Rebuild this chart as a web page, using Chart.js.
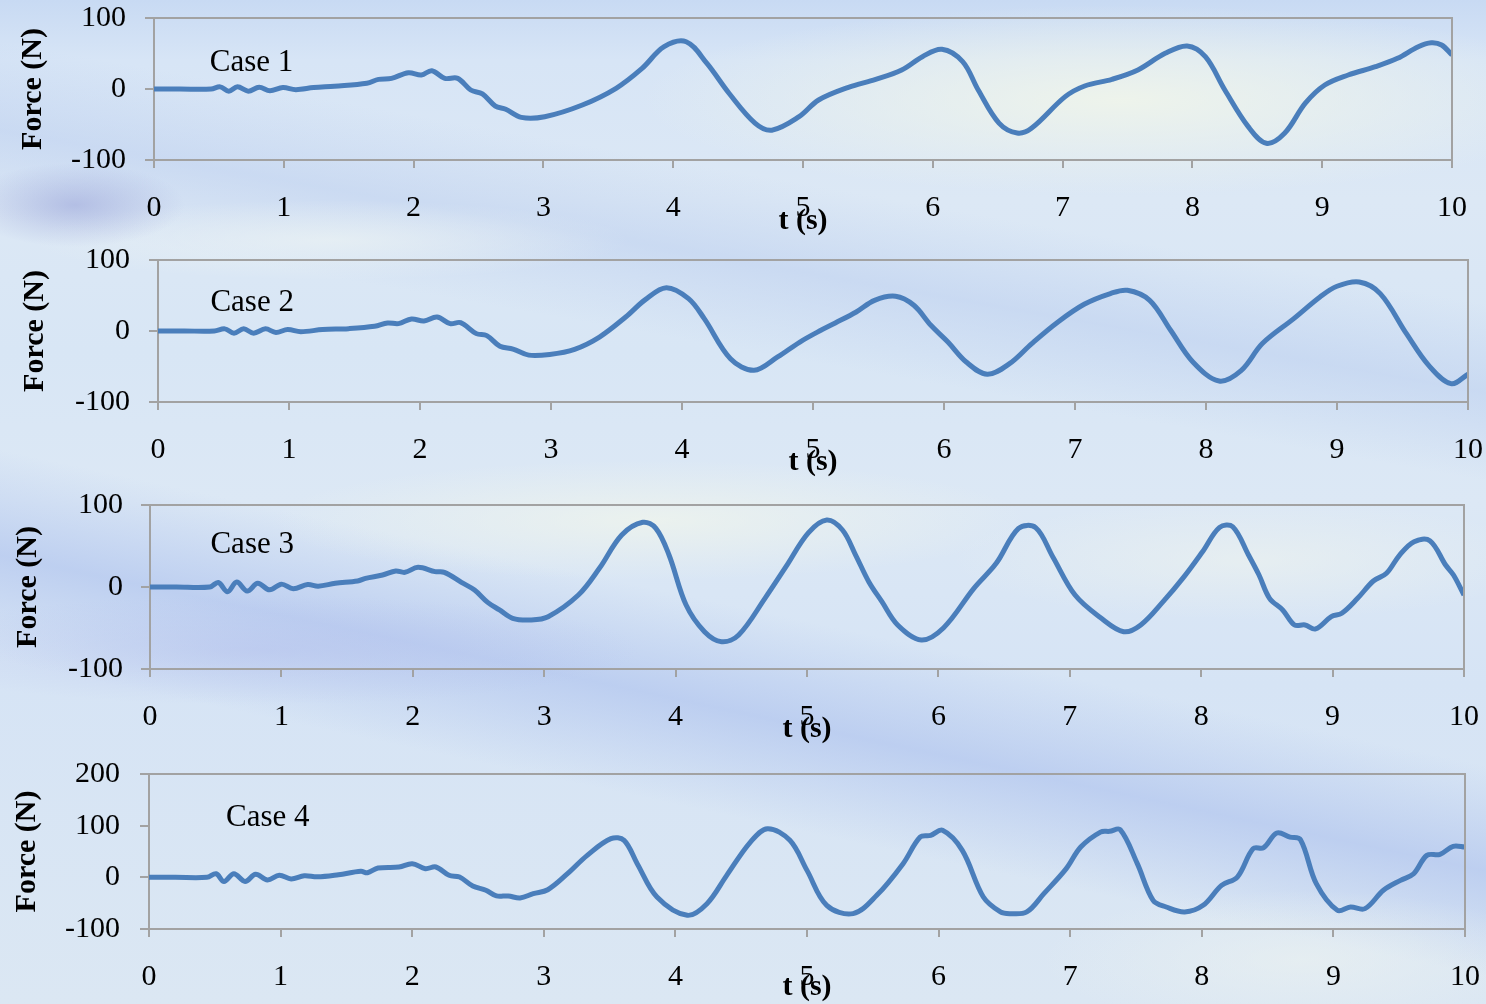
<!DOCTYPE html>
<html>
<head>
<meta charset="utf-8">
<script src="https://cdn.jsdelivr.net/npm/chart.js@4.4.1/dist/chart.umd.min.js"></script>
<style>
  html, body { margin: 0; padding: 0; width: 1486px; height: 1004px; overflow: hidden; }
  body {
    position: relative;
    background:
      radial-gradient(ellipse 110px 42px at 75px 205px, rgba(150,160,215,0.55), rgba(150,160,215,0) 100%),
      radial-gradient(ellipse 480px 95px at 1120px 100px, rgba(240,245,234,0.9), rgba(240,245,234,0)),
      radial-gradient(ellipse 380px 60px at 650px 520px, rgba(240,245,236,0.75), rgba(240,245,236,0)),
      radial-gradient(ellipse 300px 60px at 1250px 560px, rgba(238,243,238,0.6), rgba(238,243,238,0)),
      radial-gradient(ellipse 260px 70px at 1300px 960px, rgba(236,242,240,0.6), rgba(236,242,240,0)),
      radial-gradient(ellipse 300px 40px at 330px 240px, rgba(236,243,244,0.7), rgba(236,243,244,0)),
      radial-gradient(ellipse 380px 55px at 260px 650px, rgba(178,190,236,0.45), rgba(178,190,236,0)),
      linear-gradient(192deg, rgba(185,205,240,0) 58%, rgba(176,196,238,0.68) 66%, rgba(185,205,240,0) 74%),
      linear-gradient(190deg, rgba(190,210,240,0) 24%, rgba(182,202,238,0.45) 31%, rgba(190,210,240,0) 38%),
      linear-gradient(180deg, #c8daf3 0%, #d7e5f6 6%, #dce8f5 20%, #d8e6f5 35%, #dce8f5 50%, #d6e4f5 68%, #dbe7f3 100%);
  }
  canvas { position: absolute; left: 0; }
</style>
</head>
<body>
<canvas id="c1" width="1486" height="240" style="top:0px"></canvas>
<canvas id="c2" width="1486" height="245" style="top:240px"></canvas>
<canvas id="c3" width="1486" height="265" style="top:485px"></canvas>
<canvas id="c4" width="1486" height="254" style="top:750px"></canvas>
<script>
// Time axis ticks (s)
const timeTicks = [0, 1, 2, 3, 4, 5, 6, 7, 8, 9, 10];
const caseNames = ['Case 1', 'Case 2', 'Case 3', 'Case 4'];

// Case 1: time (s) and force (N)
const case1T = [0, 0.2, 0.44, 0.51, 0.576, 0.643, 0.726, 0.81, 0.893, 0.993,
  1.093, 1.23, 1.39, 1.64, 1.73, 1.83, 1.96, 2.06, 2.14, 2.24,
  2.34, 2.44, 2.53, 2.63, 2.71, 2.83, 3.01, 3.30, 3.56, 3.76,
  3.93, 4.10, 4.26, 4.43, 4.63, 4.76, 4.97, 5.12, 5.35, 5.56,
  5.76, 5.92, 6.07, 6.23, 6.35, 6.51, 6.65, 6.76, 7.02, 7.17,
  7.38, 7.58, 7.79, 7.96, 8.10, 8.25, 8.43, 8.57, 8.71, 8.87,
  9.02, 9.20, 9.41, 9.58, 9.74, 9.84, 9.92, 10.0];
const case1F = [0, 0, 0, 3, -3, 3, -3, 2.5, -2.5, 2,
  -1, 2, 4, 8, 13.6, 15, 23, 19.7, 25.8, 15,
  15, -1.4, -7, -24, -28.6, -40, -39, -22.5, 1, 29,
  59.6, 66.6, 36, -6, -48, -58, -39, -15.5, 2.4, 13.6,
  26.8, 45.5, 55.9, 38.5, -1.4, -48, -62, -55.4, -10.8, 4.2,
  13.6, 26.8, 50.2, 60.6, 45.5, -1.4, -53, -76.5, -62.4, -20,
  5.6, 19.7, 31.4, 43.2, 59.6, 65.2, 62, 48];

// Case 2
const case2T = [0, 0.2, 0.43, 0.51, 0.58, 0.654, 0.73, 0.82, 0.90, 0.99,
  1.09, 1.256, 1.455, 1.653, 1.753, 1.836, 1.935, 2.03, 2.13, 2.23,
  2.31, 2.43, 2.51, 2.61, 2.71, 2.83, 2.99, 3.18, 3.37, 3.57,
  3.72, 3.88, 4.05, 4.17, 4.37, 4.55, 4.73, 4.90, 5.06, 5.17,
  5.33, 5.47, 5.63, 5.77, 5.90, 6.03, 6.17, 6.33, 6.50, 6.67,
  6.87, 7.07, 7.27, 7.40, 7.57, 7.73, 7.90, 8.10, 8.27, 8.43,
  8.67, 8.87, 9.00, 9.17, 9.33, 9.53, 9.70, 9.87, 10.0];
const case2F = [0, 0, 0, 3, -3, 3, -3, 3, -2, 2,
  -1, 2, 3.3, 6.6, 11.3, 10.4, 16.9, 14.1, 19.7, 10.4,
  11.8, -3.7, -6.5, -21.5, -25.4, -34, -33, -25.8, -8.5, 19.7,
  44.2, 61, 45.6, 17.4, -39, -55.4, -36.6, -15.5, 1, 11.3,
  26.8, 43.2, 48.9, 36.2, 8, -15.5, -43.7, -61, -46, -17.7,
  12.7, 37.6, 52.7, 57.3, 43.2, 1, -43.7, -70.4, -55.4, -17.7,
  17.4, 47.9, 63, 69, 52.7, -3.7, -48.4, -74.2, -61];

// Case 3
const case3T = [0, 0.2, 0.455, 0.52, 0.59, 0.66, 0.74, 0.82, 0.91, 1.00,
  1.09, 1.20, 1.28, 1.41, 1.58, 1.64, 1.77, 1.87, 1.94, 2.04,
  2.17, 2.24, 2.37, 2.47, 2.57, 2.66, 2.76, 2.90, 3.03, 3.26,
  3.42, 3.59, 3.75, 3.85, 3.95, 4.08, 4.22, 4.35, 4.48, 4.68,
  4.84, 5.01, 5.15, 5.27, 5.37, 5.47, 5.57, 5.69, 5.87, 6.04,
  6.27, 6.44, 6.61, 6.74, 6.87, 7.04, 7.24, 7.41, 7.54, 7.71,
  7.87, 8.01, 8.14, 8.24, 8.36, 8.44, 8.52, 8.62, 8.71, 8.79,
  8.87, 8.99, 9.07, 9.19, 9.31, 9.41, 9.51, 9.62, 9.74, 9.86,
  9.92, 10.0];
const case3F = [0, 0, 0, 5.5, -5.7, 6, -5, 4.5, -3.5, 3.5,
  -2, 3, 1, 4.5, 7.3, 10.6, 14.6, 19.5, 17.9, 24,
  18.7, 17.9, 5.7, -3.7, -18.7, -28, -38.2, -40.2, -36.2, -9.8,
  22.8, 63.4, 78.9, 71.5, 39, -22, -54.5, -66.7, -58.5, -13.8,
  24.8, 66, 81.7, 69.5, 39, 6.5, -17.9, -46.3, -64.6, -49.6,
  -1.6, 28.9, 71.5, 72.4, 37, -9.8, -38.2, -54.5, -46.3, -17.9,
  12.6, 43, 72.8, 73.5, 39, 14.6, -13.8, -28, -46.3, -46.3,
  -51.2, -36.2, -32, -13.8, 7.3, 16.7, 39, 55.3, 56.5, 26.8,
  14.6, -9.8];

// Case 4
const case4T = [0, 0.2, 0.44, 0.51, 0.57, 0.645, 0.73, 0.81, 0.90, 0.99,
  1.08, 1.18, 1.28, 1.44, 1.61, 1.66, 1.74, 1.90, 2.00, 2.10,
  2.18, 2.28, 2.36, 2.46, 2.56, 2.64, 2.73, 2.82, 2.92, 3.03,
  3.18, 3.33, 3.51, 3.61, 3.71, 3.86, 4.09, 4.24, 4.39, 4.57,
  4.70, 4.87, 5.00, 5.15, 5.35, 5.53, 5.73, 5.86, 5.94, 6.03,
  6.18, 6.34, 6.47, 6.54, 6.67, 6.80, 6.97, 7.08, 7.23, 7.30,
  7.38, 7.51, 7.63, 7.73, 7.87, 8.01, 8.15, 8.27, 8.39, 8.47,
  8.57, 8.67, 8.75, 8.87, 9.03, 9.13, 9.24, 9.38, 9.51, 9.61,
  9.71, 9.81, 9.91, 10.0];
const case4F = [0, 0, 0, 7, -8, 7, -8, 6, -5, 4,
  -3, 3, 1, 5.2, 11.6, 9, 18, 20, 26.5, 16.8,
  20, 3.9, 0.6, -16.8, -25, -36, -36, -40, -31.6, -24,
  7, 42.5, 74.8, 71.6, 26.5, -38, -73.5, -50.9, 3.9, 68.3,
  94.2, 71.6, 13.5, -54.2, -70.3, -34.8, 26.5, 78, 81.2, 91,
  52.2, -38, -67, -70.3, -67, -31.6, 16.8, 58.6, 87.6, 89,
  92.2, 26.5, -44.5, -57.4, -67, -54.2, -15.5, 0.6, 55.5, 57.4,
  85.7, 78, 72.9, -12.2, -63.8, -57.4, -60.6, -25.1, -5.8, 7,
  42.5, 44.5, 60, 58.6];

// Force axis ticks per panel
const forceTicks123 = [-100, 0, 100];
const forceTicks4 = [-100, 0, 100, 200];

const FONT = '"Liberation Serif", "Times New Roman", Times, serif';
const AXIS_GREY = '#a2a2a2';
const LINE_BLUE = '#4a7ebb';

// Panel layout: canvas id, chart-area insets, label placement
const panels = [
  { id: 'c1', t: case1T, f: case1F, ticks: forceTicks123, name: caseNames[0], nameAt: [0.43, 37],
    padTop: 18, padRight: 34, yWidth: 154, xHeight: 80, yLabPad: 19, yTitlePad: 18, xTitlePad: 4 },
  { id: 'c2', t: case2T, f: case2F, ticks: forceTicks123, name: caseNames[1], nameAt: [0.40, 39],
    padTop: 20, padRight: 18, yWidth: 158, xHeight: 83, yLabPad: 19, yTitlePad: 20, xTitlePad: 8 },
  { id: 'c3', t: case3T, f: case3F, ticks: forceTicks123, name: caseNames[2], nameAt: [0.46, 51],
    padTop: 20, padRight: 22, yWidth: 150, xHeight: 81, yLabPad: 18, yTitlePad: 13, xTitlePad: 6 },
  { id: 'c4', t: case4T, f: case4F, ticks: forceTicks4, name: caseNames[3], nameAt: [0.585, 116],
    padTop: 24, padRight: 21, yWidth: 149, xHeight: 75, yLabPad: 20, yTitlePad: 12, xTitlePad: 2 }
];

// Top and right edges of the plot frame, plus the case caption
const framePlugin = {
  id: 'frameAndCaption',
  afterDatasetsDraw(chart, args, opts) {
    const { ctx, chartArea: a, scales } = chart;
    ctx.save();
    ctx.strokeStyle = AXIS_GREY;
    ctx.lineWidth = 2;
    ctx.beginPath();
    ctx.moveTo(a.left, a.top);
    ctx.lineTo(a.right, a.top);
    ctx.lineTo(a.right, a.bottom);
    ctx.stroke();
    ctx.fillStyle = '#000';
    ctx.font = '31px ' + FONT;
    ctx.textAlign = 'left';
    ctx.textBaseline = 'middle';
    ctx.fillText(opts.text, scales.x.getPixelForValue(opts.at[0]), scales.y.getPixelForValue(opts.at[1]));
    ctx.restore();
  }
};

panels.forEach(p => {
  const pts = p.t.map((t, i) => ({ x: t, y: p.f[i] }));
  new Chart(document.getElementById(p.id), {
    type: 'line',
    data: {
      datasets: [{
        data: pts,
        borderColor: LINE_BLUE,
        borderWidth: 5,
        pointRadius: 0,
        tension: 0.35,
        fill: false
      }]
    },
    options: {
      responsive: false,
      animation: false,
      events: [],
      layout: { padding: { top: p.padTop, right: p.padRight, left: 0, bottom: 0 } },
      plugins: {
        legend: { display: false },
        tooltip: { enabled: false },
        frameAndCaption: { text: p.name, at: p.nameAt }
      },
      scales: {
        x: {
          type: 'linear',
          min: timeTicks[0],
          max: timeTicks[timeTicks.length - 1],
          afterBuildTicks: s => { s.ticks = timeTicks.map(v => ({ value: v })); },
          afterFit: s => { s.height = p.xHeight; s.paddingLeft = 0; s.paddingRight = 0; },
          border: { color: AXIS_GREY, width: 2 },
          grid: { drawOnChartArea: false, color: AXIS_GREY, lineWidth: 2, tickLength: 8 },
          ticks: { color: '#000', padding: 22, maxRotation: 0, font: { family: FONT, size: 30 } },
          title: { display: true, text: 't (s)', color: '#000',
                   font: { family: FONT, size: 30, weight: 'bold', lineHeight: 1 },
                   padding: { top: 0, bottom: p.xTitlePad } }
        },
        y: {
          type: 'linear',
          min: p.ticks[0],
          max: p.ticks[p.ticks.length - 1],
          afterBuildTicks: s => { s.ticks = p.ticks.map(v => ({ value: v })); },
          afterFit: s => { s.width = p.yWidth; s.paddingTop = 0; s.paddingBottom = 0; },
          border: { color: AXIS_GREY, width: 2 },
          grid: { drawOnChartArea: false, color: AXIS_GREY, lineWidth: 2, tickLength: 9 },
          ticks: { color: '#000', padding: p.yLabPad, font: { family: FONT, size: 30 } },
          title: { display: true, text: 'Force (N)', color: '#000',
                   font: { family: FONT, size: 30, weight: 'bold', lineHeight: 1 },
                   padding: { top: p.yTitlePad, bottom: 0 } }
        }
      }
    },
    plugins: [framePlugin]
  });
});
</script>
</body>
</html>
